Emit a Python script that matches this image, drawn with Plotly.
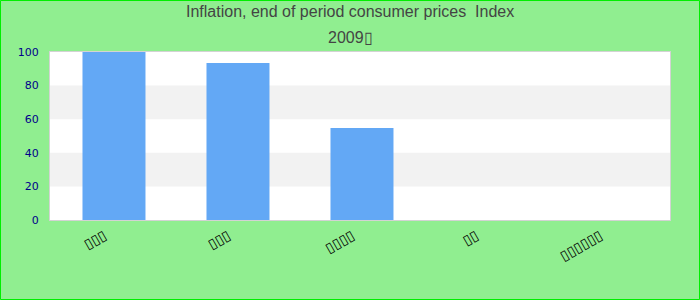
import plotly.graph_objects as go

# Data
categories = ["c1", "c2", "c3", "c4", "c5"]
values = [100, 93.4, 54.8, None, None]
tick_labels = ["▯▯▯", "▯▯▯", "▯▯▯▯", "▯▯", "▯▯▯▯▯▯"]
y_ticks = [0, 20, 40, 60, 80, 100]
bands = [(20, 40), (60, 80)]
title_line1 = "Inflation, end of period consumer prices  Index"
title_line2 = "2009▯"

W, H = 700, 300
ML, MR, MT, MB = 50, 30, 52, 80

fig = go.Figure()
fig.add_trace(go.Bar(
    x=categories, y=values, marker=dict(color="#63a8f5", line=dict(width=0)),
    width=0.508, offset=-0.238,
    showlegend=False, hoverinfo="y",
))
# helper trace so the shifted label axis renders its ticks
fig.add_trace(go.Scatter(
    x=categories, y=[None] * len(categories), xaxis="x2", mode="markers",
    showlegend=False, hoverinfo="skip",
))

pw = W - ML - MR
ph = H - MT - MB

shapes = []
for y0, y1 in bands:
    shapes.append(dict(type="rect", xref="paper", yref="y", x0=0, x1=1, y0=y0, y1=y1,
                       fillcolor="#f2f2f2", line=dict(width=0), layer="below"))
shapes.append(dict(type="rect", xref="paper", yref="paper",
                   x0=(0.5 - ML) / pw, x1=(W - 0.5 - ML) / pw,
                   y0=(0.5 - MB) / ph, y1=(H - 0.5 - MB) / ph,
                   line=dict(color="#00ee00", width=1), fillcolor="rgba(0,0,0,0)", layer="above"))

title_font = dict(family="Liberation Sans, Arial, sans-serif", size=16, color="#444444")
cx = (W / 2 - ML) / pw
annotations = [
    dict(text=title_line1, xref="paper", yref="paper", x=cx, xanchor="center",
         y=1 + (MT - 12) / ph, yanchor="middle", showarrow=False, font=title_font),
    dict(text=title_line2, xref="paper", yref="paper", x=cx, xanchor="center",
         y=1 + (MT - 37) / ph, yanchor="middle", showarrow=False, font=title_font),
]

shift = 8 / (pw / len(categories))
fig.update_layout(
    width=W, height=H,
    margin=dict(l=ML, r=MR, t=MT, b=MB),
    paper_bgcolor="#90ee90",
    plot_bgcolor="#ffffff",
    xaxis=dict(
        type="category", range=[-0.5, 4.5], showticklabels=False, ticks="",
        showgrid=False, showline=True, mirror=True, linecolor="#d3d3d3", linewidth=1,
        zeroline=False, fixedrange=True,
    ),
    xaxis2=dict(
        type="category", overlaying="x", side="bottom",
        range=[-0.5 + shift, 4.5 + shift],
        tickmode="array", tickvals=categories, ticktext=tick_labels,
        tickangle=-30, ticks="", ticklabelstandoff=4,
        tickfont=dict(family="DejaVu Sans", size=14, color="#000000"),
        showgrid=False, showline=False, zeroline=False, fixedrange=True,
    ),
    yaxis=dict(
        range=[0, 100], tickmode="array", tickvals=y_ticks, showgrid=False,
        showline=True, mirror=True, linecolor="#d3d3d3", linewidth=1, zeroline=False,
        ticks="", ticklabelstandoff=8,
        tickfont=dict(family="DejaVu Sans", size=11, color="#00008b"), fixedrange=True,
    ),
    shapes=shapes,
    annotations=annotations,
)

fig.write_html("out.html")
